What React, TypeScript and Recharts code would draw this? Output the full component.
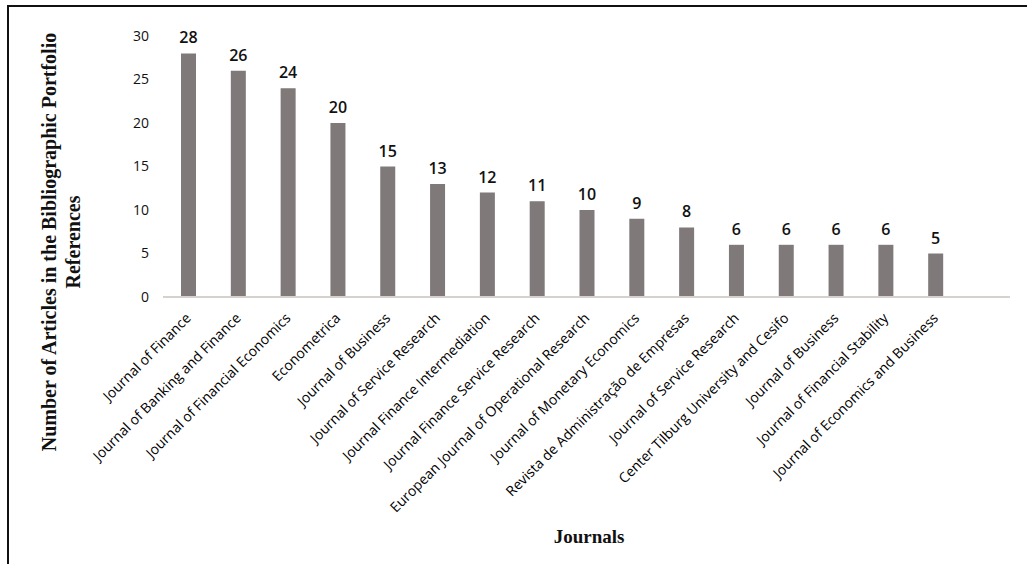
import { BarChart, Bar, XAxis, YAxis, LabelList } from "recharts";

const journals = [
  "Journal of Finance",
  "Journal of Banking and Finance",
  "Journal of Financial Economics",
  "Econometrica",
  "Journal of Business",
  "Journal of Service Research",
  "Journal Finance Intermediation",
  "Journal Finance Service Research",
  "European Journal of Operational Research",
  "Journal of Monetary Economics",
  "Revista de Administração de Empresas",
  "Journal of Service Research",
  "Center Tilburg University and Cesifo",
  "Journal of Business",
  "Journal of Financial Stability",
  "Journal of Economics and Business",
];

const articles = [28, 26, 24, 20, 15, 13, 12, 11, 10, 9, 8, 6, 6, 6, 6, 5];

const yTicks = [0, 5, 10, 15, 20, 25, 30];

const data = journals.map((name, i) => ({ id: i, name, articles: articles[i] }));

const SANS = "'Open Sans', 'DejaVu Sans', sans-serif";
const SERIF = "'Liberation Serif', 'Times New Roman', serif";

function JournalTick(props: any) {
  const { x, y, payload } = props;
  const label = journals[payload.value] ?? "";
  const tx = x + 3;
  const ty = y + 14;
  return (
    <text
      x={tx}
      y={ty}
      textAnchor="end"
      transform={`rotate(-45, ${tx}, ${ty})`}
      fontSize={14}
      fontFamily={SANS}
      fill="#000"
    >
      {label}
    </text>
  );
}

export default function App() {
  return (
    <div
      style={{
        position: "absolute",
        top: 0,
        left: 0,
        width: 1027,
        height: 564,
        background: "#fff",
        overflow: "hidden",
      }}
    >
      <div
        style={{
          position: "absolute",
          top: 5,
          left: 7,
          right: 0,
          bottom: 0,
          borderTop: "2px solid #111",
          borderLeft: "2px solid #111",
        }}
      />
      <BarChart
        width={1027}
        height={564}
        data={data}
        margin={{ top: 36, right: 17, bottom: 0, left: 0 }}
        barSize={15}
      >
        <XAxis
          dataKey="id"
          type="category"
          height={267}
          interval={0}
          padding={{ left: 1, right: 49 }}
          axisLine={{ stroke: "#d8d0cc", strokeWidth: 2 }}
          tickLine={false}
          tick={<JournalTick />}
        />
        <YAxis
          width={163}
          domain={[0, 30]}
          ticks={yTicks}
          axisLine={false}
          tickLine={false}
          tickSize={6}
          tickMargin={8}
          tick={{ fontSize: 14, fill: "#111", fontFamily: SANS }}
        />
        <Bar dataKey="articles" fill="#7f7979" isAnimationActive={false}>
          <LabelList
            dataKey="articles"
            position="top"
            offset={10}
            style={{ fontSize: 16, fontWeight: 600, fill: "#111", fontFamily: SANS }}
          />
        </Bar>
      </BarChart>
      <div
        style={{
          position: "absolute",
          left: 61,
          top: 242,
          width: 480,
          transform: "translate(-50%, -50%) rotate(-90deg)",
          textAlign: "center",
          fontFamily: SERIF,
          fontWeight: "bold",
          fontSize: 20,
          lineHeight: "24px",
          color: "#111",
        }}
      >
        Number of Articles in the Bibliographic Portfolio
        <br />
        References
      </div>
      <div
        style={{
          position: "absolute",
          left: 589,
          top: 537,
          transform: "translate(-50%, -50%)",
          fontFamily: SERIF,
          fontWeight: "bold",
          fontSize: 19,
          color: "#111",
        }}
      >
        Journals
      </div>
    </div>
  );
}
